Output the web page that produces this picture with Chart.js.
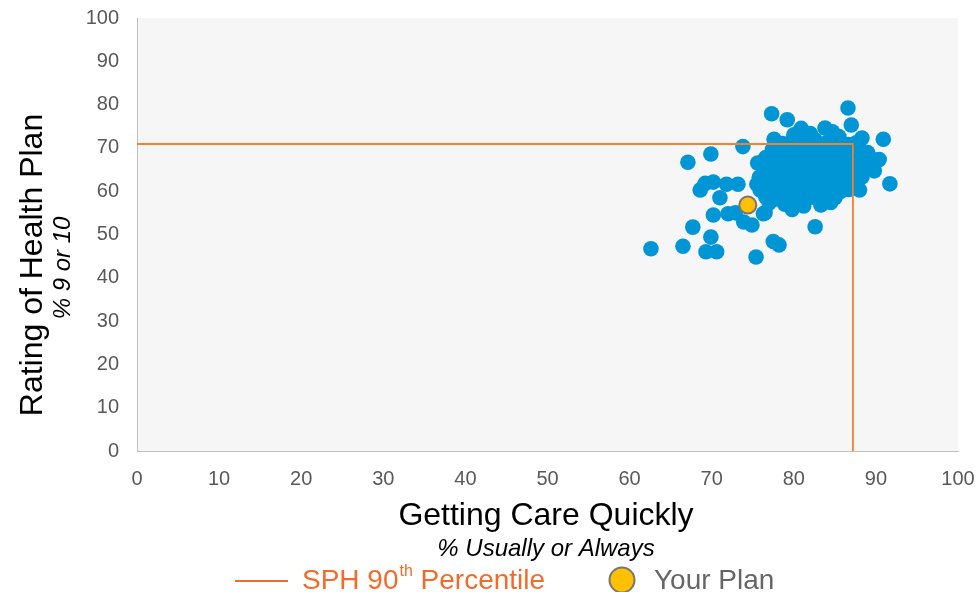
<!DOCTYPE html>
<html>
<head>
<meta charset="utf-8">
<script src="https://cdn.jsdelivr.net/npm/chart.js@4.4.1/dist/chart.umd.min.js"></script>
<style>
  html, body { margin: 0; padding: 0; background: #ffffff; }
  #wrap { position: relative; width: 979px; height: 592px; }
</style>
</head>
<body>
<div id="wrap"><canvas id="scatter"></canvas></div>
<script>
// Peer plans: [Getting Care Quickly %, Rating of Health Plan %]
const peerPlans = [
    [62.6, 46.7], [66.5, 47.3], [67.1, 66.7], [67.7, 51.7], [69.3, 46.0], [70.6, 46.0],
    [69.9, 49.4], [69.9, 68.6], [68.6, 60.3], [69.2, 61.8], [70.2, 62.1], [71.8, 61.6],
    [73.2, 61.6], [71.0, 58.5], [70.2, 54.5], [72.0, 54.8], [72.9, 55.0], [73.8, 70.3],
    [73.9, 52.9], [74.9, 52.2], [75.4, 44.8], [77.5, 48.4], [78.2, 47.6], [76.3, 54.8],
    [77.3, 77.9], [79.2, 76.5], [77.6, 72.0], [82.6, 51.8], [86.6, 79.2], [87.0, 75.3],
    [88.3, 72.3], [90.9, 72.0], [90.4, 67.3], [91.7, 61.7], [88.0, 60.3], [89.8, 64.7],
    [80.9, 74.5], [83.8, 74.6], [84.7, 73.7], [82.0, 73.3], [80.0, 73.0], [85.5, 72.6],
    [78.6, 71.0], [79.8, 71.6], [81.2, 71.3], [82.6, 71.8], [84.0, 71.2], [85.4, 71.0],
    [86.6, 70.8], [87.6, 71.2],
    [77.4, 69.6], [78.8, 69.2], [80.2, 69.8], [81.5, 69.4], [82.9, 69.9], [84.3, 69.3],
    [85.7, 69.6], [86.9, 69.2], [88.1, 69.7], [89.0, 68.9],
    [76.6, 67.8], [78.0, 68.1], [79.4, 67.6], [80.8, 68.2], [82.1, 67.7], [83.6, 68.3],
    [84.9, 67.6], [86.2, 68.1], [87.4, 67.6], [88.7, 68.0], [89.6, 67.3],
    [75.6, 66.5], [77.1, 66.2], [78.5, 66.7], [79.9, 66.1], [81.3, 66.6], [82.7, 66.0],
    [84.1, 66.5], [85.4, 66.1], [86.8, 66.6], [88.0, 66.0], [89.2, 66.4],
    [76.4, 64.7], [77.8, 65.2], [79.2, 64.6], [80.6, 65.1], [82.0, 64.5], [83.4, 65.0],
    [84.8, 64.4], [86.1, 65.0], [87.4, 64.6], [88.6, 65.1],
    [75.8, 63.2], [77.3, 63.6], [78.7, 63.0], [80.1, 63.5], [81.5, 62.9], [82.9, 63.4],
    [84.3, 62.8], [85.7, 63.3], [87.0, 62.8], [88.3, 63.3],
    [75.5, 61.6], [76.9, 62.0], [78.3, 61.4], [79.7, 61.9], [81.1, 61.3], [82.5, 61.8],
    [83.9, 61.2], [85.3, 61.7], [86.6, 61.2], [87.6, 61.8],
    [75.9, 60.3], [77.3, 59.9], [78.7, 60.4], [80.1, 59.8], [81.5, 60.3], [82.9, 59.7],
    [84.3, 60.2], [85.6, 59.8], [86.7, 60.4],
    [76.6, 58.6], [78.1, 58.2], [79.5, 58.7], [80.9, 58.1], [82.3, 58.6], [83.7, 58.0],
    [85.0, 58.5],
    [76.5, 55.0], [77.0, 57.3], [78.9, 57.0], [79.8, 55.8], [81.2, 56.6], [83.3, 56.8],
    [84.5, 57.4]
];

// Your plan
const yourPlan = [74.4, 56.8];

// SPH 90th percentile on each measure
const percentile90 = { x: 87.2, y: 70.9 };

const axisTicks = [0, 10, 20, 30, 40, 50, 60, 70, 80, 90, 100];

const FONT = '"Liberation Sans", Arial, sans-serif';
const BLUE = '#0096d6';
const ORANGE = '#f08230';
const GOLD = '#ffc000';

// Shade the plotting area
const plotBackground = {
    id: 'plotBackground',
    beforeDraw(chart) {
        const { ctx, chartArea: a } = chart;
        ctx.save();
        ctx.fillStyle = '#f6f6f6';
        ctx.fillRect(a.left, a.top, a.right - a.left, a.bottom - a.top);
        ctx.restore();
    }
};

// Axis titles, subtitles and the legend row
const titlesAndLegend = {
    id: 'titlesAndLegend',
    afterDraw(chart) {
        const ctx = chart.ctx;
        ctx.save();
        ctx.textAlign = 'center';
        ctx.textBaseline = 'middle';
        ctx.fillStyle = '#000000';

        ctx.save();
        ctx.translate(33, 265);
        ctx.rotate(-Math.PI / 2);
        ctx.font = '32px ' + FONT;
        ctx.fillText('Rating of Health Plan', 0, 0);
        ctx.font = 'italic 24px ' + FONT;
        ctx.fillText('% 9 or 10', -3, 30);
        ctx.restore();

        ctx.font = '32px ' + FONT;
        ctx.fillText('Getting Care Quickly', 546, 516);
        ctx.font = 'italic 24px ' + FONT;
        ctx.fillText('% Usually or Always', 546, 549);

        // legend: percentile line
        ctx.strokeStyle = '#f26b2b';
        ctx.lineWidth = 2;
        ctx.beginPath();
        ctx.moveTo(235, 581);
        ctx.lineTo(288, 581);
        ctx.stroke();

        ctx.textAlign = 'left';
        ctx.fillStyle = '#f26b2b';
        ctx.font = '28px ' + FONT;
        let x = 302;
        ctx.fillText('SPH 90', x, 581);
        x += ctx.measureText('SPH 90').width;
        ctx.font = '16px ' + FONT;
        ctx.fillText('th', x + 1, 572);
        x += ctx.measureText('th').width + 1;
        ctx.font = '28px ' + FONT;
        ctx.fillText(' Percentile', x, 581);

        // legend: your plan marker
        ctx.beginPath();
        ctx.arc(622, 580, 12.5, 0, Math.PI * 2);
        ctx.fillStyle = GOLD;
        ctx.fill();
        ctx.strokeStyle = '#767676';
        ctx.lineWidth = 2;
        ctx.stroke();

        ctx.fillStyle = '#666666';
        ctx.fillText('Your Plan', 654, 581);
        ctx.restore();
    }
};

const tickStyle = { color: '#595959', font: { family: FONT, size: 20 } };

new Chart(document.getElementById('scatter'), {
    type: 'scatter',
    data: {
        datasets: [
            {
                label: 'Your Plan',
                data: [{ x: yourPlan[0], y: yourPlan[1] }],
                backgroundColor: GOLD,
                borderColor: '#767676',
                borderWidth: 2,
                pointRadius: 8.5,
                order: 0
            },
            {
                label: 'SPH 90th Percentile',
                type: 'line',
                data: [
                    { x: 0, y: percentile90.y },
                    { x: percentile90.x, y: percentile90.y },
                    { x: percentile90.x, y: 0 }
                ],
                borderColor: ORANGE,
                borderWidth: 1.8,
                pointRadius: 0,
                fill: false,
                tension: 0,
                order: 1
            },
            {
                label: 'Peer Plans',
                data: peerPlans.map(p => ({ x: p[0], y: p[1] })),
                backgroundColor: BLUE,
                borderWidth: 0,
                pointRadius: 7.8,
                order: 2
            }
        ]
    },
    options: {
        responsive: true,
        maintainAspectRatio: false,
        animation: false,
        layout: { autoPadding: false, padding: { top: 18, right: 21, left: 0, bottom: 0 } },
        plugins: {
            legend: { display: false },
            tooltip: { enabled: false }
        },
        scales: {
            x: {
                type: 'linear',
                min: 0,
                max: 100,
                afterBuildTicks: s => { s.ticks = axisTicks.map(v => ({ value: v })); },
                afterFit: s => {
                    s.height = 141;
                    s.paddingLeft = 0;
                    s.paddingRight = 0;
                },
                grid: { display: false, drawTicks: false },
                border: { display: true, color: '#bfbfbf', width: 1 },
                ticks: { ...tickStyle, padding: 16, maxRotation: 0 }
            },
            y: {
                type: 'linear',
                min: 0,
                max: 100,
                afterBuildTicks: s => { s.ticks = axisTicks.map(v => ({ value: v })); },
                afterFit: s => {
                    s.width = 137;
                    s.paddingTop = 0;
                    s.paddingBottom = 0;
                },
                grid: { display: false, drawTicks: false },
                border: { display: true, color: '#bfbfbf', width: 1 },
                ticks: { ...tickStyle, padding: 18 }
            }
        }
    },
    plugins: [plotBackground, titlesAndLegend]
});
</script>
</body>
</html>
